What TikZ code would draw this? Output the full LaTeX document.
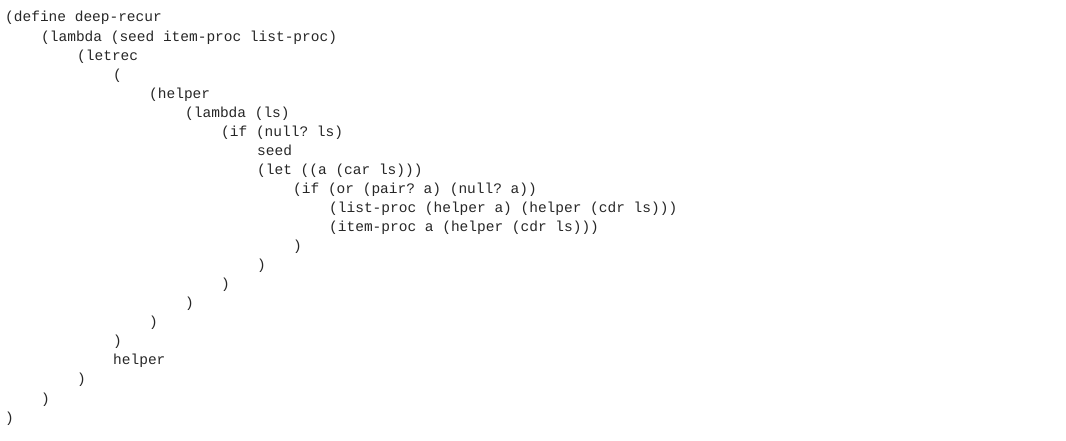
\documentclass[tikz,border=0pt]{standalone}
\usepackage{fontspec}
\setmonofont{Liberation Mono}
\begin{document}
\begin{tikzpicture}[x=1pt,y=1pt,code/.style={anchor=base west,inner sep=0pt,font=\ttfamily\fontsize{14.5}{16}\selectfont,text=black!85}]
\useasboundingbox (0,0) rectangle (1066,440);
\foreach \n/\ind/\t in {
0/0/{(define deep-recur},
1/4/{(lambda (seed item-proc list-proc)},
2/8/{(letrec},
3/12/{(},
4/16/{(helper},
5/20/{(lambda (ls)},
6/24/{(if (null? ls)},
7/28/{seed},
8/28/{(let ((a (car ls)))},
9/32/{(if (or (pair? a) (null? a))},
10/36/{(list-proc (helper a) (helper (cdr ls)))},
11/36/{(item-proc a (helper (cdr ls)))},
12/32/{)},
13/28/{)},
14/24/{)},
15/20/{)},
16/16/{)},
17/12/{)},
18/12/{helper},
19/8/{)},
20/4/{)},
21/0/{)}}
{\node[code] (l\n) at ({5+9*\ind},{440-22-19.05*\n}) {\t};}
\end{tikzpicture}
\end{document}
